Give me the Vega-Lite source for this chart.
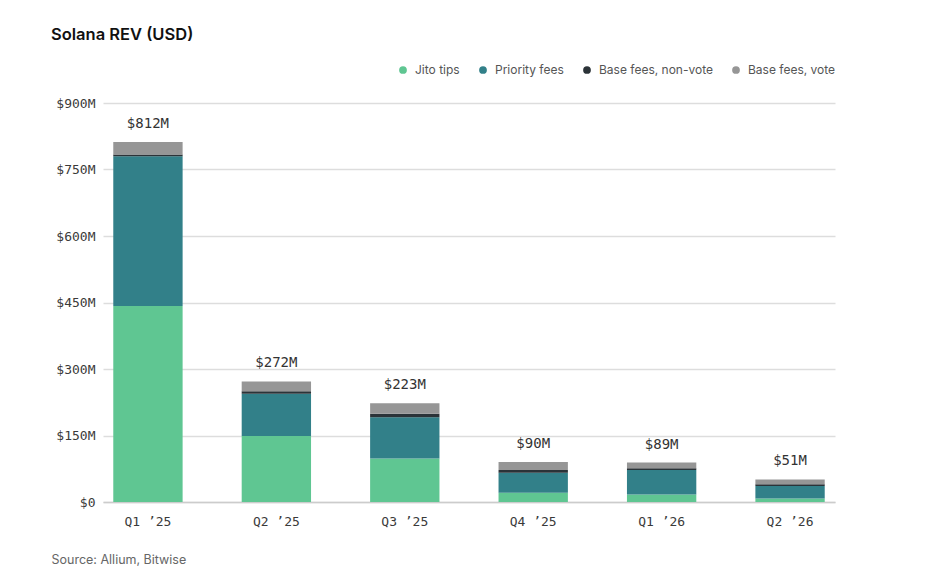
{
  "$schema": "https://vega.github.io/schema/vega-lite/v6.json",
  "width": 732,
  "height": 399,
  "autosize": {"type": "none"},
  "padding": {"left": 103, "top": 103, "right": 105, "bottom": 73},
  "background": "white",
  "config": {"view": {"stroke": null}},
  "title": {
    "text": "Solana REV (USD)",
    "anchor": "start",
    "frame": "group",
    "dx": -52,
    "offset": 21,
    "font": "Inter",
    "fontSize": 16.5,
    "fontWeight": 600,
    "color": "#111111"
  },
  "data": {
    "values": [
      {"quarter": "Q1 '25", "type": "Jito tips", "value": 442},
      {"quarter": "Q1 '25", "type": "Priority fees", "value": 338},
      {"quarter": "Q1 '25", "type": "Base fees, non-vote", "value": 4},
      {"quarter": "Q1 '25", "type": "Base fees, vote", "value": 28},
      {"quarter": "Q2 '25", "type": "Jito tips", "value": 149},
      {"quarter": "Q2 '25", "type": "Priority fees", "value": 95},
      {"quarter": "Q2 '25", "type": "Base fees, non-vote", "value": 6},
      {"quarter": "Q2 '25", "type": "Base fees, vote", "value": 22},
      {"quarter": "Q3 '25", "type": "Jito tips", "value": 98},
      {"quarter": "Q3 '25", "type": "Priority fees", "value": 93},
      {"quarter": "Q3 '25", "type": "Base fees, non-vote", "value": 8},
      {"quarter": "Q3 '25", "type": "Base fees, vote", "value": 24},
      {"quarter": "Q4 '25", "type": "Jito tips", "value": 21},
      {"quarter": "Q4 '25", "type": "Priority fees", "value": 45},
      {"quarter": "Q4 '25", "type": "Base fees, non-vote", "value": 6},
      {"quarter": "Q4 '25", "type": "Base fees, vote", "value": 18},
      {"quarter": "Q1 '26", "type": "Jito tips", "value": 17},
      {"quarter": "Q1 '26", "type": "Priority fees", "value": 55},
      {"quarter": "Q1 '26", "type": "Base fees, non-vote", "value": 4},
      {"quarter": "Q1 '26", "type": "Base fees, vote", "value": 13},
      {"quarter": "Q2 '26", "type": "Jito tips", "value": 8},
      {"quarter": "Q2 '26", "type": "Priority fees", "value": 28},
      {"quarter": "Q2 '26", "type": "Base fees, non-vote", "value": 4},
      {"quarter": "Q2 '26", "type": "Base fees, vote", "value": 11}
    ]
  },
  "encoding": {
    "x": {
      "field": "quarter",
      "type": "nominal",
      "sort": null,
      "scale": {"paddingInner": 0.46, "paddingOuter": 0.08},
      "axis": {
        "title": "Source: Allium, Bitwise",
        "titleAnchor": "start",
        "titleAlign": "left",
        "titleX": -52,
        "titleY": 51,
        "titleFont": "Inter",
        "titleFontSize": 12.5,
        "titleFontWeight": "normal",
        "titleColor": "#666666",
        "labelExpr": "replace(datum.label, \"'\", '\u2019')",
        "labelAngle": 0,
        "labelFont": "DejaVu Sans Mono",
        "labelFontSize": 13,
        "labelColor": "#3a3a3a",
        "labelPadding": 13,
        "ticks": false,
        "domain": true,
        "domainColor": "#cccccc",
        "domainWidth": 1.5
      }
    }
  },
  "layer": [
    {
      "transform": [
        {"calculate": "indexof(['Jito tips', 'Priority fees', 'Base fees, non-vote', 'Base fees, vote'], datum.type)", "as": "stackOrder"}
      ],
      "mark": {"type": "bar"},
      "encoding": {
        "y": {
          "field": "value",
          "type": "quantitative",
          "stack": "zero",
          "scale": {"domain": [0, 900]},
          "axis": {
            "title": null,
            "values": [0, 150, 300, 450, 600, 750, 900],
            "labelExpr": "datum.value == 0 ? '$0' : '$' + datum.value + 'M'",
            "labelFont": "DejaVu Sans Mono",
            "labelFontSize": 13,
            "labelColor": "#3a3a3a",
            "labelPadding": 8,
            "ticks": false,
            "domain": false,
            "grid": true,
            "gridColor": "#dddddd",
            "gridWidth": 1.5
          }
        },
        "color": {
          "field": "type",
          "type": "nominal",
          "sort": ["Jito tips", "Priority fees", "Base fees, non-vote", "Base fees, vote"],
          "scale": {
            "domain": ["Jito tips", "Priority fees", "Base fees, non-vote", "Base fees, vote"],
            "range": ["#5fc692", "#328089", "#2b3338", "#969696"]
          },
          "legend": {
            "title": null,
            "orient": "none",
            "direction": "horizontal",
            "legendX": 294,
            "legendY": -39,
            "symbolType": "circle",
            "symbolSize": 60,
            "symbolStrokeWidth": 0,
            "labelFont": "Inter",
            "labelFontSize": 12,
            "labelColor": "#555555",
            "columnPadding": 17,
            "symbolOffset": 0,
            "labelOffset": 6
          }
        },
        "order": {"field": "stackOrder", "type": "quantitative", "sort": "ascending"}
      }
    },
    {
      "transform": [
        {"aggregate": [{"op": "sum", "field": "value", "as": "total"}], "groupby": ["quarter"]},
        {"calculate": "'$' + datum.total + 'M'", "as": "label"}
      ],
      "mark": {"type": "text", "baseline": "bottom", "dy": -11, "font": "DejaVu Sans Mono", "fontSize": 14, "color": "#333333"},
      "encoding": {
        "y": {"field": "total", "type": "quantitative"},
        "text": {"field": "label"}
      }
    }
  ]
}
